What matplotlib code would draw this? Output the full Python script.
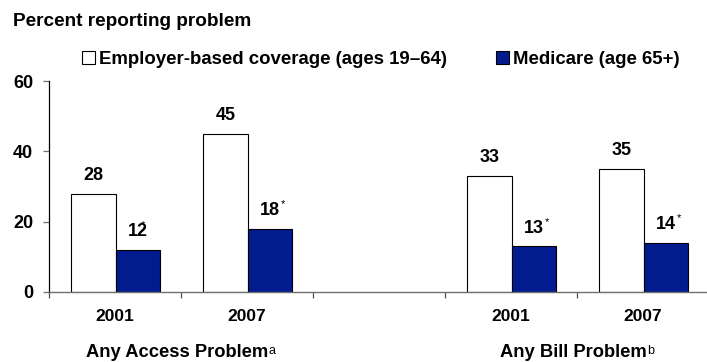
import matplotlib
matplotlib.use("Agg")
import matplotlib.pyplot as plt
import matplotlib.font_manager as fm
from matplotlib.patches import Rectangle

# ---- data ----
year_labels = ["2001", "2007", "", "2001", "2007"]
employer = [28, 45, None, 33, 35]
medicare = [12, 18, None, 13, 14]
medicare_star = [True, True, False, True, True]
group_labels = ["Any Access Problem", "Any Bill Problem"]
group_notes = ["a", "b"]
group_centers = [1.0, 4.0]
legend_labels = ["Employer-based coverage (ages 19\u201364)", "Medicare (age 65+)"]
title = "Percent reporting problem"
yticks = [0, 20, 40, 60]

# ---- style ----
NAVY = "#021B8F"
names = {f.name for f in fm.fontManager.ttflist}


def pick(cands, default):
    for c in cands:
        if c in names:
            return c
    return default


BASE = pick(["Liberation Sans", "Arimo"], "DejaVu Sans")
plt.rcParams["font.family"] = [BASE, "DejaVu Sans"]

W, H = 707, 362
fig = plt.figure(figsize=(W / 100, H / 100), dpi=100)
ax = fig.add_axes([49 / W, 70 / H, (709 - 49) / W, 211 / H])
ax.set_xlim(0, 5)
ax.set_ylim(0, 60)

bw = 0.335
for i, (e, m) in enumerate(zip(employer, medicare)):
    if e is None:
        continue
    c = i + 0.5
    ax.bar(c - bw / 2 + 0.005, e, width=bw, color="white", edgecolor="black", linewidth=0.8)
    ax.bar(c + bw / 2 + 0.005, m, width=bw, color=NAVY, edgecolor="black", linewidth=0.8)
    ax.annotate(str(e), (c - bw / 2 + 0.005, e), xytext=(0, 13), textcoords="offset points",
                ha="center", va="center", fontsize=13, fontweight="bold")
    t = ax.annotate(str(m), (c + bw / 2 + 0.005, m), xytext=(0, 13), textcoords="offset points",
                    ha="center", va="center", fontsize=13, fontweight="bold")
    if medicare_star[i]:
        dx = -5 if m == 12 else 0.5
        ax.annotate("*", xy=(1, 1), xycoords=t, xytext=(dx, 2), textcoords="offset points",
                    ha="left", va="top", fontsize=8)

# axes styling
for s in ["top", "right"]:
    ax.spines[s].set_visible(False)
ax.spines["left"].set_color("black")
ax.spines["left"].set_linewidth(0.9)
ax.spines["bottom"].set_color("#707070")
ax.spines["bottom"].set_linewidth(1.0)

ax.set_yticks(yticks)
ax.set_yticklabels([str(v) for v in yticks], fontsize=13, fontweight="bold")
ax.tick_params(axis="y", length=4.3, width=0.9, color="#707070", pad=7)

ax.set_xticks([i + 0.5 for i in range(5)])
ax.set_xticklabels(year_labels, fontsize=12.5, fontweight="bold")
ax.tick_params(axis="x", which="major", length=0, pad=12.5)
ax.set_xticks(range(6), minor=True)
ax.tick_params(axis="x", which="minor", length=4.3, width=0.9, color="#505050")

# group labels
for gl, gn, gc in zip(group_labels, group_notes, group_centers):
    t = ax.text(gc - 0.03, -60.7 / (211 / 60), gl, ha="center", va="center",
                fontsize=13.2, fontweight="bold", clip_on=False)
    ax.annotate(gn, xy=(1, 0.62), xycoords=t, xytext=(0.5, 0), textcoords="offset points",
                ha="left", va="center", fontsize=9)

# title
fig.text(13 / W, 1 - 26 / H, title, fontsize=13.7, fontweight="bold",
         ha="left", va="baseline")

# legend (manual)
leg_x = [82, 496]
for lx, lab, fc in zip(leg_x, legend_labels, ["white", NAVY]):
    fig.patches.append(Rectangle((lx / W, 1 - 64 / H), 13 / W, 13 / H, transform=fig.transFigure,
                                 facecolor=fc, edgecolor="black", linewidth=0.8))
    fig.text((lx + 17) / W, 1 - 64.5 / H, lab, fontsize=13.4,
             fontweight="bold", ha="left", va="baseline")

fig.savefig("out.png", dpi=100)
